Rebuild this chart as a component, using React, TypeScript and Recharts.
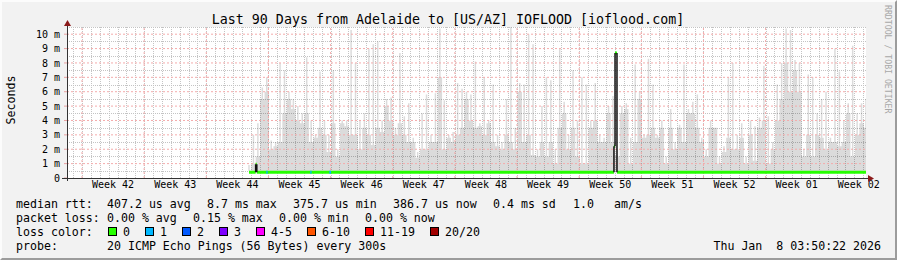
import { ComposedChart, Area, Line, XAxis, YAxis, CartesianGrid } from "recharts";

const MONO = '"DejaVu Sans Mono", monospace';

// x axis is days since the start of the 90 day window
const weekLabels = ["42", "43", "44", "45", "46", "47", "48", "49", "50", "51", "52", "01", "02"];
const firstWeekStart = 1.69;
const DAY_SPAN = 90;
const MS_TOP = 10.5;
const yTicks = [0, 1, 2, 3, 4, 5, 6, 7, 8, 9, 10];

// smoke, one sample every half day starting at day 20.5 (ms)
const smokeStart = 20.5;
const smokeStep = 0.5;
const smokeBase = [
  0.5, 1.0, 1.5, 5.5, 6.0, 2.0, 2.2, 2.5, 4.5, 5.5, 4.8, 4.0, 3.8, 4.5, 2.5, 2.8, 3.5, 3.0, 1.8, 3.8,
  1.5, 3.8, 3.6, 3.0, 3.0, 2.0, 3.5, 3.0, 2.3, 3.5, 3.2, 5.0, 4.0, 3.0, 3.8, 3.0,
  2.5, 2.5, 1.4, 2.0, 2.0, 2.5, 2.5, 7.0, 2.0, 2.8, 2.5, 3.0, 3.5, 5.5, 4.0, 3.5, 3.6, 3.0, 3.8,
  2.5, 2.2, 2.0, 3.0, 2.5, 2.0, 6.0, 2.5, 3.0, 1.6, 1.5, 2.5, 1.5, 2.5, 1.0, 3.5,
  4.5, 2.0, 3.5, 1.5, 1.0, 1.0, 3.5, 4.0, 2.5, 2.5, 4.5, 2.5, 1.5, 4.5, 4.8, 1.0, 2.5, 5.5, 2.8,
  3.0, 3.5, 2.8, 3.5, 1.0, 3.5, 2.0, 3.5, 2.5, 4.5, 4.5, 3.5, 2.5, 1.5, 3.5,
  3.5, 1.0, 1.8, 2.8, 2.0, 2.0, 2.8, 1.0, 3.0, 1.2, 3.5, 4.0, 1.0, 2.0, 4.0, 5.5, 8.0, 6.0, 7.5,
  6.0, 1.5, 3.0, 1.5, 3.0, 2.8, 2.0, 2.5, 2.5, 2.2, 2.5, 4.5, 1.5, 3.0, 3.8, 3.5,
];
const smokePeak = [
  0.9, 3.0, 3.8, 6.3, 7.0, 2.6, 2.5, 8.0, 7.5, 6.0, 5.5, 5.0, 4.5, 8.4, 4.0, 3.0, 7.4, 4.0, 3.0, 7.5,
  2.0, 4.0, 4.0, 10.3, 8.0, 4.0, 4.5, 9.0, 9.3, 9.5, 4.0, 5.5, 5.6, 3.5, 8.7, 4.3,
  5.2, 2.8, 1.8, 4.5, 5.8, 3.0, 5.9, 10.4, 5.4, 3.0, 3.2, 6.6, 6.2, 6.0, 5.8, 8.1, 3.8, 7.0, 4.0,
  6.5, 3.0, 2.5, 5.5, 10.5, 3.5, 6.6, 6.5, 10.0, 9.3, 2.0, 5.0, 7.0, 6.8, 2.0, 9.0,
  5.3, 3.0, 7.5, 4.0, 7.0, 6.5, 4.0, 6.6, 3.0, 2.8, 5.0, 5.7, 2.0, 5.0, 5.2, 2.8, 7.9, 6.0, 3.0,
  8.3, 6.5, 3.0, 4.0, 1.5, 4.8, 2.5, 3.7, 7.9, 4.8, 5.3, 5.8, 2.8, 2.0, 4.0,
  3.5, 1.5, 2.2, 7.0, 8.0, 3.0, 3.8, 1.5, 4.0, 3.6, 4.2, 7.8, 4.3, 2.5, 6.5, 8.0, 10.4, 10.3, 8.2,
  8.0, 2.0, 7.2, 7.0, 4.5, 5.5, 6.0, 2.8, 9.0, 7.4, 4.0, 5.2, 9.2, 4.5, 5.2, 5.5,
];

// median rtt (ms), step changes
const medianDays = [20.5, 21.25, 21.38, 61.61, 61.73, 61.95, 90];
const medianMs = [0.4, 0.95, 0.4, 2.2, 8.7, 0.4, 0.4];
const MEDIAN_FLOOR = 0.4;

// short stretches with 1/20 loss
const lossOneFrom = [22.45, 27.4, 29.55];
const lossOneTo = [22.6, 27.55, 29.75];

const lossLabels = ["0", "1", "2", "3", "4-5", "6-10", "11-19", "20/20"];
const lossColors = ["#26ff00", "#00b8ff", "#0059ff", "#7e00ff", "#ff00ff", "#ff5500", "#ff0000", "#a10000"];

type Pt = { day: number; ms: number | null };

const smokeRows = smokeBase.map((b, i) => ({
  day: smokeStart + i * smokeStep,
  base: [MEDIAN_FLOOR, b],
}));
// thin spikes from the top of the smoke mass up to the peak
const spikeRows: Pt[] = [];
smokeBase.forEach((b, i) => {
  const d = smokeStart + i * smokeStep;
  spikeRows.push({ day: d, ms: b }, { day: d, ms: smokePeak[i] }, { day: d, ms: null });
});
// median: green flats, black risers
const flatRows: Pt[] = [];
const riserRows: Pt[] = [];
medianDays.forEach((d, i) => {
  if (i < medianDays.length - 1) {
    flatRows.push({ day: d, ms: medianMs[i] }, { day: medianDays[i + 1], ms: medianMs[i] }, { day: medianDays[i + 1], ms: null });
  }
  if (i > 0 && medianMs[i] !== medianMs[i - 1]) {
    riserRows.push({ day: d, ms: medianMs[i - 1] }, { day: d, ms: medianMs[i] }, { day: d, ms: null });
  }
});
const lossOneRows: Pt[] = [];
lossOneFrom.forEach((d, i) => {
  lossOneRows.push({ day: d, ms: MEDIAN_FLOOR }, { day: lossOneTo[i], ms: MEDIAN_FLOOR }, { day: lossOneTo[i], ms: null });
});

const minorDays = Array.from({ length: 90 }, (_, i) => firstWeekStart - 1 + i);
const majorDays = weekLabels.slice(0, 12).map((_, i) => firstWeekStart + 7 * i);
const labelDays = weekLabels.map((_, i) => firstWeekStart + 3.5 + 7 * i);
const minorMs = yTicks.map((v) => v + 0.5);
const majorMs = yTicks.slice(1);

// week / millisecond grid as dashed segments, drawn over the smoke like rrdtool does
const majorGridRows: Pt[] = [];
majorDays.forEach((d) => majorGridRows.push({ day: d, ms: 0 }, { day: d, ms: MS_TOP }, { day: d, ms: null }));
majorMs.forEach((v) => majorGridRows.push({ day: 0, ms: v }, { day: DAY_SPAN, ms: v }, { day: DAY_SPAN, ms: null }));

// minor grid positions through the plot offset, snapped to pixel centres
const snap = (p: number) => Math.round(p) + 0.5;
const xGen = (days: number[]) => ({ offset }: any) => {
  const w = offset.width ?? 897 - offset.left - offset.right;
  return days.map((d) => snap(offset.left + (d / DAY_SPAN) * w));
};
const yGen = (vals: number[]) => ({ offset }: any) => {
  const h = offset.height ?? 260 - offset.top - offset.bottom;
  return vals.map((v) => snap(offset.top + (1 - v / MS_TOP) * h));
};

const row1 = [
  [16, "median rtt:"],
  [107, "407.2 us avg"],
  [207, "8.7 ms max"],
  [293, "375.7 us min"],
  [393, "386.7 us now"],
  [493, "0.4 ms sd"],
  [573, "1.0"],
  [614, "am/s"],
] as const;
const row2 = [
  [16, "packet loss:"],
  [107, "0.00 % avg"],
  [193, "0.15 % max"],
  [279, "0.00 % min"],
  [365, "0.00 % now"],
] as const;

function Legend() {
  let bx = 108;
  const boxes = lossLabels.map((l, i) => {
    const x = bx;
    bx += 37 + 7 * (l.length - 1);
    return (
      <g key={l}>
        <rect x={x + 0.5} y={227.5} width={8} height={8} fill={lossColors[i]} stroke="#000" />
        <text x={x + 15} y={236}>{l}</text>
      </g>
    );
  });
  return (
    <g fontFamily={MONO} fontSize={11.6} fill="#000">
      {row1.map(([x, t]) => (
        <text key={t} x={x} y={208}>{t}</text>
      ))}
      {row2.map(([x, t], i) => (
        <text key={i} x={x} y={222}>{t}</text>
      ))}
      <text x={16} y={236}>loss color:</text>
      {boxes}
      <text x={16} y={250}>probe:</text>
      <text x={107} y={250}>20 ICMP Echo Pings (56 Bytes) every 300s</text>
      <text x={881} y={250} textAnchor="end" xmlSpace="preserve" style={{ whiteSpace: "pre" }}>
        {"Thu Jan  8 03:50:22 2026"}
      </text>
    </g>
  );
}

export default function App() {
  return (
    <div
      style={{
        position: "absolute",
        left: 0,
        top: 0,
        width: 897,
        height: 260,
        boxSizing: "border-box",
        background: "#f2f2f2",
        borderTop: "2px solid #fcfcfc",
        borderLeft: "2px solid #fcfcfc",
        borderRight: "2px solid #9c9c9c",
        borderBottom: "2px solid #9c9c9c",
      }}
    >
      <div style={{ position: "absolute", left: -2, top: -2 }}>
        <ComposedChart width={897} height={260} data={smokeRows} margin={{ top: 27, right: 31, bottom: 58, left: 7 }}>
          <CartesianGrid
            xAxisId="w"
            yAxisId="ms"
            fill="#ffffff"
            stroke="#c4c4c4"
            strokeDasharray="1 1"
            verticalCoordinatesGenerator={xGen(minorDays)}
            horizontalCoordinatesGenerator={yGen(minorMs)}
          />
          <XAxis
            xAxisId="w"
            dataKey="day"
            type="number"
            domain={[0, DAY_SPAN]}
            allowDataOverflow
            ticks={majorDays}
            tick={false}
            tickSize={3}
            tickLine={{ stroke: "#333" }}
            axisLine={false}
            height={4}
          />
          <XAxis
            xAxisId="lab"
            dataKey="day"
            type="number"
            domain={[0, DAY_SPAN]}
            allowDataOverflow
            ticks={labelDays}
            tickFormatter={(v: number) => `Week ${weekLabels[labelDays.findIndex((d) => Math.abs(d - v) < 0.01)]}`}
            tick={{ fontSize: 10, fontFamily: MONO, fill: "#000" }}
            tickSize={0}
            tickMargin={3}
            tickLine={false}
            axisLine={false}
            interval={0}
            height={20}
          />
          <YAxis
            yAxisId="ms"
            type="number"
            domain={[0, MS_TOP]}
            allowDataOverflow
            ticks={yTicks}
            tickFormatter={(v: number) => (v === 0 ? "0" : `${v} m`)}
            tick={{ fontSize: 10, fontFamily: MONO, fill: "#000" }}
            tickSize={3}
            tickMargin={4}
            tickLine={{ stroke: "#e8a0a0" }}
            axisLine={false}
            interval={0}
            width={60}
          />
          <Area
            xAxisId="w"
            yAxisId="ms"
            dataKey="base"
            type="step"
            fill="#000"
            fillOpacity={0.14}
            stroke="none"
            isAnimationActive={false}
          />
          <Line
            xAxisId="w"
            yAxisId="ms"
            data={spikeRows}
            dataKey="ms"
            type="linear"
            stroke="#000"
            strokeOpacity={0.14}
            strokeWidth={1.5}
            dot={false}
            connectNulls={false}
            isAnimationActive={false}
          />
          <Line
            xAxisId="w"
            yAxisId="ms"
            data={majorGridRows}
            dataKey="ms"
            type="linear"
            stroke="#f4abab"
            strokeWidth={1}
            strokeDasharray="2 2"
            dot={false}
            connectNulls={false}
            isAnimationActive={false}
          />
          <Line
            xAxisId="w"
            yAxisId="ms"
            data={flatRows}
            dataKey="ms"
            type="linear"
            stroke="#26ff00"
            strokeWidth={3}
            dot={false}
            connectNulls={false}
            isAnimationActive={false}
          />
          <Line
            xAxisId="w"
            yAxisId="ms"
            data={lossOneRows}
            dataKey="ms"
            type="linear"
            stroke="#00b8ff"
            strokeWidth={3}
            dot={false}
            connectNulls={false}
            isAnimationActive={false}
          />
          <Line
            xAxisId="w"
            yAxisId="ms"
            data={riserRows}
            dataKey="ms"
            type="linear"
            stroke="#111"
            strokeWidth={1.5}
            dot={false}
            connectNulls={false}
            isAnimationActive={false}
          />
        </ComposedChart>
      </div>
      <svg width={897} height={260} style={{ position: "absolute", left: -2, top: -2, pointerEvents: "none" }}>
        <text x={448} y={23.5} textAnchor="middle" fontFamily={MONO} fontSize={13.3} fill="#000">
          Last 90 Days from Adelaide to [US/AZ] IOFLOOD [ioflood.com]
        </text>
        <text transform="translate(14.5,100) rotate(-90)" textAnchor="middle" fontFamily={MONO} fontSize={11.6} fill="#000">
          Seconds
        </text>
        <text transform="translate(885,5) rotate(90)" fontFamily={MONO} fontSize={8.2} fill="#a8a8a8">
          RRDTOOL / TOBI OETIKER
        </text>
        <line x1={67.5} y1={181} x2={67.5} y2={24} stroke="#333" />
        <line x1={62} y1={178.5} x2={869} y2={178.5} stroke="#333" />
        <path d="M64,26 L67.5,20 L71,26 Z" fill="#8b1a1a" />
        <path d="M868,175 L874,178.5 L868,182 Z" fill="#8b1a1a" />
        <Legend />
      </svg>
    </div>
  );
}
